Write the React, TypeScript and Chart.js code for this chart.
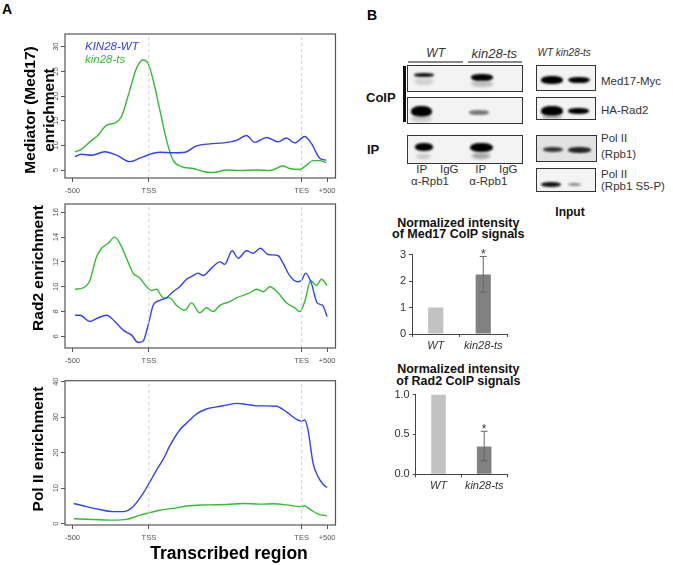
import React, { useEffect, useRef } from 'react';
import { Chart, registerables } from 'chart.js';
Chart.register(...registerables);

const FONT = "'Liberation Sans', Arial, Helvetica, sans-serif";
const BLUE = '#3142ef';
const GREEN = '#33bd33';

// ---- Panel A: metagene profiles ----
const xTickPositions = [0, 30, 90, 100];
const xTickLabels = ['-500', 'TSS', 'TES', '+500'];
const markerPositions = [30, 90];

const med17WtX = [1, 3.5, 7.5, 12.7, 17.3, 22.5, 26.4, 30.4, 34.3, 39.5, 44.1, 48.7, 53.9, 59.2, 64.4, 68.3, 71.6, 76.2, 80.8, 84.0, 87.3, 91.2, 93.8, 97.1, 99.7];
const med17WtY = [7.7, 8.2, 8.0, 8.7, 8.0, 6.7, 7.4, 8.2, 8.6, 8.5, 8.6, 9.9, 10.3, 10.5, 11.0, 12.0, 10.6, 11.6, 10.7, 11.5, 10.5, 11.8, 10.4, 7.4, 7.0];
const med17TsX = [1, 3.5, 6.8, 10.1, 13.4, 16.6, 19.2, 22.5, 25.1, 27.7, 29.7, 31.7, 34.3, 36.9, 39.5, 42.8, 47.4, 51.3, 55.2, 60.5, 65.7, 72.3, 77.5, 82.7, 85.3, 89.3, 91.9, 94.5, 97.1, 99.7];
const med17TsY = [8.7, 9.2, 10.7, 12.1, 14.1, 14.5, 15.8, 21.2, 25.6, 27.3, 26.6, 23.2, 17.2, 11.1, 7.0, 5.7, 5.3, 4.7, 4.5, 5.0, 4.9, 5.0, 4.9, 5.8, 5.3, 5.1, 6.0, 6.9, 6.9, 6.5];
const med17YTicks = [5, 10, 15, 20, 25, 30];

const rad2WtX = [1, 2.9, 6.8, 10.1, 13.4, 16.6, 19.9, 23.2, 25.8, 27.7, 29.7, 31.7, 34.3, 36.9, 39.5, 42.1, 44.8, 47.4, 49.3, 51.3, 54.6, 57.9, 59.8, 62.7, 65.1, 68.3, 70.9, 73.8, 76.8, 80.8, 82.7, 85.3, 88.4, 89.9, 91.6, 93.8, 96.1, 98.2, 100];
const rad2WtY = [7.7, 7.7, 7.2, 7.5, 7.7, 7.2, 6.5, 6.1, 5.5, 5.6, 6.9, 8.5, 8.9, 9.1, 9.6, 10.0, 10.6, 10.9, 11.1, 10.9, 11.5, 12.0, 11.8, 12.9, 12.3, 12.9, 12.7, 13.1, 12.6, 12.5, 11.9, 10.9, 10.4, 10.5, 11.1, 10.3, 8.7, 8.5, 7.6];
const rad2TsX = [1, 4.2, 6.8, 9.4, 11.4, 14.0, 16.6, 18.6, 21.2, 23.8, 26.4, 29.1, 31.0, 33.0, 35.6, 38.2, 40.8, 44.1, 46.7, 50.0, 52.6, 55.2, 57.9, 61.8, 64.4, 69.6, 72.3, 74.9, 77.5, 80.8, 84.0, 87.3, 89.3, 91.2, 93.6, 95.8, 97.8, 100];
const rad2TsY = [9.8, 9.9, 10.5, 12.4, 13.1, 13.5, 14.0, 13.5, 12.3, 11.1, 10.7, 10.0, 9.7, 9.8, 9.1, 9.1, 8.5, 8.1, 8.7, 7.9, 8.3, 8.0, 8.5, 8.8, 9.1, 9.5, 9.8, 9.6, 10.0, 9.5, 8.7, 8.3, 8.0, 8.8, 10.5, 10.1, 10.6, 10.1];
const rad2YTicks = [6, 8, 10, 12, 14, 16];

const pol2WtX = [0.5, 5.5, 10.7, 16.0, 19.9, 23.8, 27.7, 30.4, 33.0, 35.6, 38.2, 42.1, 45.4, 48.7, 52.6, 56.5, 60.5, 64.4, 68.3, 72.3, 76.2, 80.1, 84.0, 88.0, 89.9, 91.2, 92.5, 94.5, 96.5, 98.4, 100];
const pol2WtY = [5.7, 4.8, 4.0, 3.4, 3.4, 4.8, 8.5, 11.8, 15.1, 18.1, 21.9, 26.4, 28.7, 30.9, 32.3, 32.9, 33.4, 33.9, 33.6, 33.2, 33.2, 33.1, 31.5, 29.4, 28.9, 29.2, 26.4, 17.0, 13.2, 11.1, 10.2];
const pol2TsX = [0.5, 8.1, 16.0, 21.2, 26.4, 30.4, 34.3, 39.5, 44.8, 52.6, 60.5, 67.0, 73.5, 78.8, 84.0, 89.3, 91.2, 93.8, 96.5, 100];
const pol2TsY = [1.4, 1.2, 1.0, 1.2, 2.4, 3.1, 3.8, 4.3, 5.0, 5.3, 5.4, 5.7, 5.5, 5.6, 5.3, 4.8, 5.0, 3.8, 2.7, 2.2];
const pol2YTicks = [0, 10, 20, 30, 40];

// ---- Panel B: quantification ----
const barCategories = ['WT', 'kin28-ts'];
const med17Values = [1, 2.25];
const med17ErrLow = [null, 1.58];
const med17ErrHigh = [null, 2.93];
const med17Stars = ['', '*'];
const med17BarTicks = [0, 1, 2, 3];
const med17BarTickLabels = ['0', '1', '2', '3'];

const rad2Values = [1, 0.35];
const rad2ErrLow = [null, 0.17];
const rad2ErrHigh = [null, 0.54];
const rad2Stars = ['', '*'];
const rad2BarTicks = [0, 0.5, 1];
const rad2BarTickLabels = ['0.0', '0.5', '1.0'];

const X_MIN = -2.95;
const X_MAX = 103.3;

const framePlugin = {
  id: 'frame',
  afterDatasetsDraw(chart: any) {
    const { ctx, chartArea: a } = chart;
    ctx.save();
    ctx.strokeStyle = '#555';
    ctx.lineWidth = 1.2;
    ctx.strokeRect(a.left, a.top, a.right - a.left, a.bottom - a.top);
    ctx.restore();
  },
};

const errorPlugin = {
  id: 'errorBars',
  afterDatasetsDraw(chart: any, _args: any, opts: any) {
    const { ctx } = chart;
    const meta = chart.getDatasetMeta(0);
    const ys = chart.scales.y;
    ctx.save();
    meta.data.forEach((bar: any, i: number) => {
      const lo = opts.low[i];
      const hi = opts.high[i];
      if (lo == null || hi == null) return;
      const x = bar.x;
      const yl = ys.getPixelForValue(lo);
      const yh = ys.getPixelForValue(hi);
      ctx.strokeStyle = '#666';
      ctx.lineWidth = 1;
      ctx.beginPath();
      ctx.moveTo(x, yl); ctx.lineTo(x, yh);
      ctx.moveTo(x - 3.5, yl); ctx.lineTo(x + 3.5, yl);
      ctx.moveTo(x - 3.5, yh); ctx.lineTo(x + 3.5, yh);
      ctx.stroke();
      if (opts.stars[i]) {
        ctx.fillStyle = '#333';
        ctx.font = `12px ${FONT}`;
        ctx.textAlign = 'center';
        ctx.textBaseline = 'alphabetic';
        ctx.fillText(opts.stars[i], x, yh + 1.5);
      }
    });
    ctx.restore();
  },
};

function lineConfig(p: any) {
  const series = (xs: number[], ys: number[], color: string) => ({
    data: xs.map((x, i) => ({ x, y: ys[i] })),
    borderColor: color,
    borderWidth: 1.4,
    pointRadius: 0,
    cubicInterpolationMode: 'monotone',
    fill: false,
  });
  const markers = markerPositions.map((m) => ({
    data: [{ x: m, y: p.yMin }, { x: m, y: p.yMax }],
    borderColor: '#cfcfcf',
    borderWidth: 1,
    borderDash: [3, 3],
    pointRadius: 0,
    fill: false,
  }));
  const tickFont = { size: 7.5, family: FONT };
  return {
    type: 'line',
    data: { datasets: [...markers, series(p.wtX, p.wtY, BLUE), series(p.tsX, p.tsY, GREEN)] },
    options: {
      animation: false,
      responsive: false,
      maintainAspectRatio: false,
      layout: { padding: { top: p.padTop, right: p.padRight, left: 0, bottom: 0 } },
      plugins: { legend: { display: false }, tooltip: { enabled: false } },
      scales: {
        x: {
          type: 'linear',
          min: X_MIN,
          max: X_MAX,
          afterBuildTicks: (s: any) => { s.ticks = xTickPositions.map((v) => ({ value: v })); },
          afterFit: (s: any) => { s.height = p.xAxisH; },
          ticks: {
            callback: (_v: any, i: number) => xTickLabels[i],
            font: tickFont, color: '#555', padding: 4, maxRotation: 0, minRotation: 0, autoSkip: false,
          },
          grid: { drawOnChartArea: false, drawTicks: true, tickLength: 4, color: '#555' },
          border: { display: false },
        },
        y: {
          type: 'linear',
          min: p.yMin,
          max: p.yMax,
          afterBuildTicks: (s: any) => { s.ticks = p.yTicks.map((v: number) => ({ value: v })); },
          afterFit: (s: any) => { s.width = p.yAxisW; },
          ticks: {
            callback: (v: any) => String(v),
            font: tickFont, color: '#555', padding: 1, minRotation: 90, maxRotation: 90,
            crossAlign: 'center', autoSkip: false,
          },
          grid: { drawOnChartArea: false, drawTicks: true, tickLength: 4, color: '#555' },
          border: { display: false },
        },
      },
    },
    plugins: [framePlugin],
  };
}

function barConfig(p: any) {
  return {
    type: 'bar',
    data: {
      labels: barCategories,
      datasets: [{
        data: p.values,
        backgroundColor: ['#c2c2c2', '#818181'],
        barPercentage: 0.8,
        categoryPercentage: 0.4,
      }],
    },
    options: {
      animation: false,
      responsive: false,
      maintainAspectRatio: false,
      layout: { padding: { top: p.padTop, right: p.padRight, left: 0, bottom: 0 } },
      plugins: {
        legend: { display: false },
        tooltip: { enabled: false },
        errorBars: { low: p.errLow, high: p.errHigh, stars: p.stars },
      },
      scales: {
        x: {
          afterFit: (s: any) => { s.height = p.xAxisH; },
          ticks: { font: { size: 11, style: 'italic', family: FONT }, color: '#333', padding: 2 },
          grid: { offset: true, drawOnChartArea: false, drawTicks: true, tickLength: 3, color: '#444' },
          border: { display: true, color: '#444', width: 1 },
        },
        y: {
          min: 0,
          max: p.yMax,
          afterBuildTicks: (s: any) => { s.ticks = p.ticks.map((v: number) => ({ value: v })); },
          afterFit: (s: any) => { s.width = p.yAxisW; },
          ticks: {
            callback: (_v: any, i: number) => p.tickLabels[i],
            font: { size: 11, family: FONT }, color: '#333', padding: 3, autoSkip: false,
          },
          grid: { drawOnChartArea: false, drawTicks: true, tickLength: 3, color: '#444' },
          border: { display: true, color: '#444', width: 1 },
        },
      },
    },
    plugins: [errorPlugin],
  };
}

function ChartCanvas({ config, left, top, width, height }: any) {
  const ref = useRef<HTMLCanvasElement>(null);
  useEffect(() => {
    const chart = new Chart(ref.current as HTMLCanvasElement, config);
    return () => chart.destroy();
  }, []);
  return (
    <canvas
      ref={ref}
      width={width}
      height={height}
      style={{ position: 'absolute', left, top, width, height }}
    />
  );
}

function T({ x, y, children, style, anchor = 'center' }: any) {
  const tx = anchor === 'left' ? '0' : '-50%';
  return (
    <div
      style={{
        position: 'absolute', left: x, top: y, transform: `translate(${tx}, -50%)`,
        whiteSpace: 'nowrap', lineHeight: 1, fontFamily: FONT, color: '#222', ...style,
      }}
    >
      {children}
    </div>
  );
}

function VTitle({ x, y, lines, size = 15.5, lh = 17.7 }: any) {
  return (
    <div
      style={{
        position: 'absolute', left: x, top: y,
        transform: 'translate(-50%, -50%) rotate(-90deg)',
        whiteSpace: 'nowrap', fontFamily: FONT, fontWeight: 'bold', fontSize: size,
        lineHeight: `${lh}px`, textAlign: 'center', color: '#000',
      }}
    >
      {lines.map((l: string, i: number) => <div key={i} style={{ height: lh }}>{l}</div>)}
    </div>
  );
}

function Blot({ left, top, width, height, bands, bg = '#f3f3f3' }: any) {
  return (
    <div
      style={{
        position: 'absolute', left, top, width, height, boxSizing: 'border-box',
        border: '1.5px solid #333', background: bg, overflow: 'hidden',
      }}
    >
      {bands.map((b: any, i: number) => (
        <div
          key={i}
          style={{
            position: 'absolute', left: b.x, top: b.cy - b.h / 2, width: b.w, height: b.h,
            background: b.c, opacity: b.o ?? 1, borderRadius: '45%', filter: `blur(${b.b ?? 0.8}px)`,
          }}
        />
      ))}
    </div>
  );
}

export default function App() {
  const p1 = { wtX: med17WtX, wtY: med17WtY, tsX: med17TsX, tsY: med17TsY, yMin: 3.38, yMax: 32.57, yTicks: med17YTicks, padTop: 14, padRight: 14.5, xAxisH: 24, yAxisW: 35 };
  const p2 = { wtX: rad2WtX, wtY: rad2WtY, tsX: rad2TsX, tsY: rad2TsY, yMin: 5.06, yMax: 16.67, yTicks: rad2YTicks, padTop: 14, padRight: 14.5, xAxisH: 24, yAxisW: 35 };
  const p3 = { wtX: pol2WtX, wtY: pol2WtY, tsX: pol2TsX, tsY: pol2TsY, yMin: -0.37, yMax: 40.28, yTicks: pol2YTicks, padTop: 13.7, padRight: 14.5, xAxisH: 24, yAxisW: 35 };
  const b1 = { values: med17Values, errLow: med17ErrLow, errHigh: med17ErrHigh, stars: med17Stars, yMax: 3, ticks: med17BarTicks, tickLabels: med17BarTickLabels, padTop: 8.3, padRight: 8, xAxisH: 21, yAxisW: 27 };
  const b2 = { values: rad2Values, errLow: rad2ErrLow, errHigh: rad2ErrHigh, stars: rad2Stars, yMax: 1, ticks: rad2BarTicks, tickLabels: rad2BarTickLabels, padTop: 9, padRight: 8, xAxisH: 20.7, yAxisW: 30.7 };

  const lbl = { fontSize: 11.5, color: '#333' };
  return (
    <div style={{ position: 'absolute', left: 0, top: 0, width: 673, height: 565, background: '#fff', overflow: 'hidden', fontFamily: FONT }}>
      <T x={7} y={9} style={{ fontWeight: 'bold', fontSize: 14, color: '#000' }}>A</T>
      <T x={372} y={15} style={{ fontWeight: 'bold', fontSize: 14, color: '#000' }}>B</T>

      <ChartCanvas config={lineConfig(p1)} left={30} top={20} width={320} height={182} />
      <ChartCanvas config={lineConfig(p2)} left={30} top={190} width={320} height={182} />
      <ChartCanvas config={lineConfig(p3)} left={30} top={367} width={320} height={182} />

      <T x={85} y={46.7} anchor="left" style={{ fontStyle: 'italic', fontSize: 11.5, color: BLUE }}>KIN28-WT</T>
      <T x={85} y={60} anchor="left" style={{ fontStyle: 'italic', fontSize: 11.5, color: GREEN }}>kin28-ts</T>

      <VTitle x={38.5} y={110} lines={['Mediator (Med17)', 'enrichment']} lh={19} />
      <VTitle x={38} y={268} lines={['Rad2 enrichment']} />
      <VTitle x={38} y={449} lines={['Pol II enrichment']} />
      <T x={229} y={553.7} style={{ fontWeight: 'bold', fontSize: 17.5, color: '#000' }}>Transcribed region</T>

      {/* Co-IP blots */}
      <T x={435.7} y={53.3} style={{ fontStyle: 'italic', fontSize: 12, color: '#333' }}>WT</T>
      <T x={494.3} y={53.3} style={{ fontStyle: 'italic', fontSize: 13, color: '#333' }}>kin28-ts</T>
      <div style={{ position: 'absolute', left: 408, top: 61, width: 55, height: 1.5, background: '#888' }} />
      <div style={{ position: 'absolute', left: 468, top: 61, width: 54, height: 1.5, background: '#888' }} />
      <div style={{ position: 'absolute', left: 402.5, top: 66, width: 3, height: 56, background: '#111' }} />
      <T x={366} y={96.7} anchor="left" style={{ fontWeight: 'bold', fontSize: 13, color: '#111' }}>CoIP</T>
      <T x={367} y={149} anchor="left" style={{ fontWeight: 'bold', fontSize: 13, color: '#111' }}>IP</T>

      <Blot left={407} top={65} width={116} height={27} bands={[
        { x: 6, cy: 8.5, w: 20, h: 4, c: '#111' },
        { x: 6, cy: 15, w: 20, h: 7, c: '#aaa', o: 0.45, b: 1.5 },
        { x: 63, cy: 11.5, w: 22, h: 6.5, c: '#000' },
        { x: 63, cy: 18, w: 22, h: 6, c: '#888', o: 0.5, b: 1.5 },
      ]} />
      <Blot left={407} top={97} width={116} height={27} bands={[
        { x: 3, cy: 13.5, w: 21, h: 11, c: '#000' },
        { x: 3, cy: 21, w: 21, h: 6, c: '#999', o: 0.45, b: 1.5 },
        { x: 61, cy: 14.5, w: 20, h: 4.5, c: '#777' },
      ]} />
      <Blot left={407} top={135} width={116} height={29} bands={[
        { x: 6.5, cy: 11, w: 18.5, h: 8, c: '#000' },
        { x: 8, cy: 20, w: 15, h: 5, c: '#888', o: 0.4, b: 1.5 },
        { x: 62, cy: 11.5, w: 22.5, h: 9.5, c: '#000' },
        { x: 64, cy: 20, w: 18, h: 6, c: '#555', o: 0.5, b: 1.5 },
      ]} />
      <T x={421.7} y={170} style={lbl}>IP</T>
      <T x={449.3} y={170} style={lbl}>IgG</T>
      <T x={480.7} y={170} style={lbl}>IP</T>
      <T x={508.3} y={170} style={lbl}>IgG</T>
      <T x={430} y={181.5} style={lbl}>α-Rpb1</T>
      <T x={488.3} y={181.5} style={lbl}>α-Rpb1</T>

      {/* Input blots */}
      <T x={537.5} y={53.3} anchor="left" style={{ fontStyle: 'italic', fontSize: 10, color: '#333' }}>WT kin28-ts</T>
      <Blot left={536} top={65} width={60} height={26} bands={[
        { x: 4, cy: 14, w: 22, h: 8, c: '#000' },
        { x: 31, cy: 14, w: 22, h: 6.5, c: '#000' },
      ]} />
      <Blot left={536} top={96.7} width={60} height={23} bands={[
        { x: 4, cy: 13.5, w: 22, h: 9.5, c: '#000' },
        { x: 5, cy: 19.5, w: 20, h: 4, c: '#777', o: 0.5, b: 1.2 },
        { x: 31, cy: 13.5, w: 21, h: 6, c: '#000' },
      ]} />
      <Blot left={536} top={135} width={61} height={27} bg="#e2e2e2" bands={[
        { x: 6, cy: 13.7, w: 20, h: 5, c: '#333' },
        { x: 31, cy: 13.7, w: 23, h: 6, c: '#222' },
      ]} />
      <Blot left={536} top={168.3} width={60} height={24} bands={[
        { x: 4, cy: 15, w: 20, h: 5, c: '#111' },
        { x: 31, cy: 15, w: 13, h: 3, c: '#888' },
      ]} />
      <T x={601} y={81.7} anchor="left" style={lbl}>Med17-Myc</T>
      <T x={601} y={111} anchor="left" style={lbl}>HA-Rad2</T>
      <T x={601} y={139} anchor="left" style={lbl}>Pol II</T>
      <T x={601} y={155} anchor="left" style={lbl}>(Rpb1)</T>
      <T x={601} y={175} anchor="left" style={lbl}>Pol II</T>
      <T x={601} y={187} anchor="left" style={lbl}>(Rpb1 S5-P)</T>
      <T x={570} y={211.7} style={{ fontWeight: 'bold', fontSize: 12, color: '#111' }}>Input</T>

      {/* Quantification bar charts */}
      <T x={458.3} y={222.7} style={{ fontWeight: 'bold', fontSize: 12.5, color: '#111' }}>Normalized intensity</T>
      <T x={458.3} y={234.3} style={{ fontWeight: 'bold', fontSize: 12.5, color: '#111' }}>of Med17 CoIP signals</T>
      <ChartCanvas config={barConfig(b1)} left={385} top={245} width={130} height={110} />

      <T x={458.3} y={369} style={{ fontWeight: 'bold', fontSize: 12.5, color: '#111' }}>Normalized intensity</T>
      <T x={458.3} y={381} style={{ fontWeight: 'bold', fontSize: 12.5, color: '#111' }}>of Rad2 CoIP signals</T>
      <ChartCanvas config={barConfig(b2)} left={385} top={385} width={130} height={110} />
    </div>
  );
}
